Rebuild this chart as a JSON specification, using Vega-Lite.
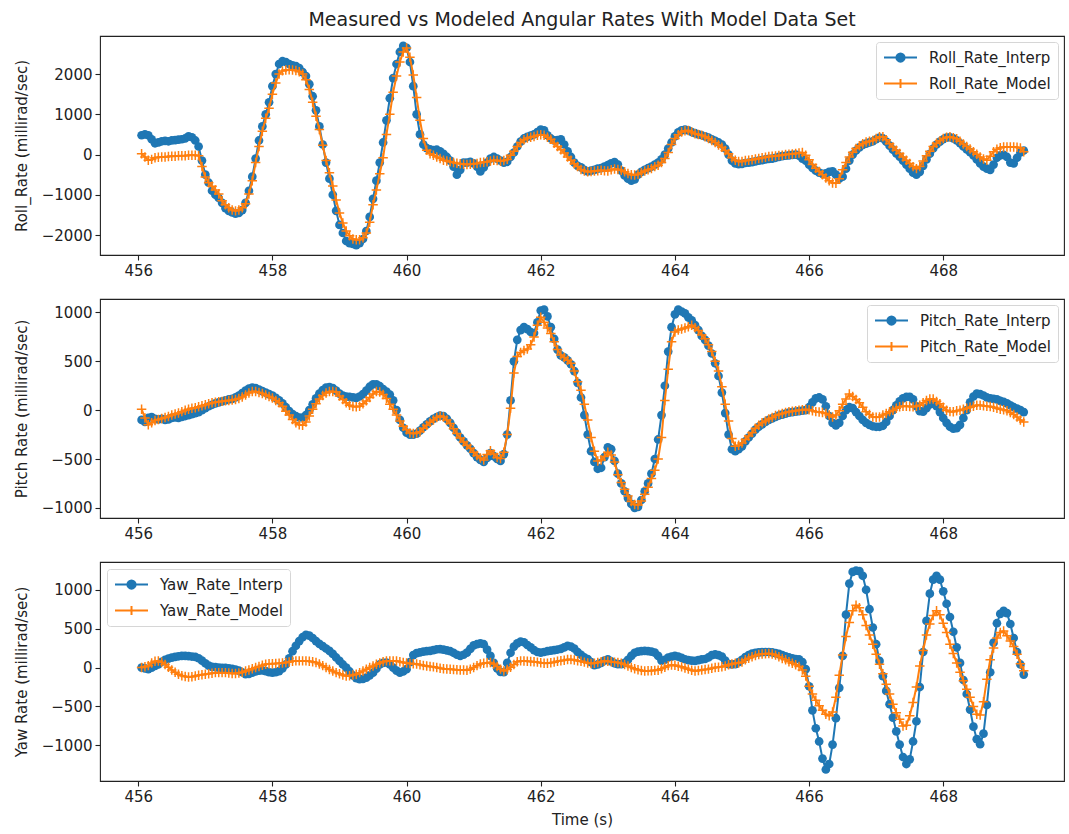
{
  "$schema": "https://vega.github.io/schema/vega-lite/v6.json",
  "background": "white",
  "padding": {"left": 13, "top": 10, "right": 4, "bottom": 4},
  "bounds": "flush",
  "spacing": 44,
  "config": {
    "font": "DejaVu Sans",
    "view": {"stroke": "#222", "strokeWidth": 1.1},
    "axis": {
      "grid": false,
      "domain": false,
      "tickColor": "#222",
      "tickSize": 5,
      "tickWidth": 1.1,
      "labelFont": "DejaVu Sans",
      "labelFontSize": 15,
      "labelColor": "#222",
      "labelPadding": 3,
      "titleFont": "DejaVu Sans",
      "titleFontSize": 15,
      "titleFontWeight": "normal",
      "titleColor": "#222"
    },
    "axisY": {"minExtent": 58, "maxExtent": 58, "titlePadding": 13},
    "legend": {
      "title": null,
      "labelFont": "DejaVu Sans",
      "labelFontSize": 15,
      "labelColor": "#222",
      "labelLimit": 400,
      "symbolSize": 225,
      "symbolOffset": 9,
      "labelOffset": 20,
      "rowPadding": 9,
      "padding": 7,
      "fillColor": "white",
      "strokeColor": "#d6d6d6",
      "cornerRadius": 3
    }
  },
  "datasets": {
    "rates": [
      {"t":456.05,"ri":480,"rm":20,"pi":-100,"pm":10,"yi":0,"ym":0},
      {"t":456.1,"ri":500,"rm":-60,"pi":-120,"pm":-80,"yi":-10,"ym":10},
      {"t":456.15,"ri":480,"rm":-140,"pi":-80,"pm":-150,"yi":-20,"ym":25},
      {"t":456.2,"ri":380,"rm":-120,"pi":-70,"pm":-130,"yi":0,"ym":60},
      {"t":456.25,"ri":280,"rm":-80,"pi":-90,"pm":-105,"yi":20,"ym":80},
      {"t":456.3,"ri":300,"rm":-70,"pi":-95,"pm":-95,"yi":40,"ym":85},
      {"t":456.35,"ri":330,"rm":-60,"pi":-90,"pm":-85,"yi":75,"ym":70},
      {"t":456.4,"ri":340,"rm":-60,"pi":-100,"pm":-75,"yi":100,"ym":40},
      {"t":456.45,"ri":330,"rm":-50,"pi":-95,"pm":-65,"yi":115,"ym":5},
      {"t":456.5,"ri":350,"rm":-40,"pi":-80,"pm":-50,"yi":128,"ym":-30},
      {"t":456.55,"ri":360,"rm":-40,"pi":-75,"pm":-40,"yi":137,"ym":-60},
      {"t":456.6,"ri":370,"rm":-30,"pi":-80,"pm":-30,"yi":145,"ym":-85},
      {"t":456.65,"ri":380,"rm":-30,"pi":-70,"pm":-15,"yi":150,"ym":-105},
      {"t":456.7,"ri":400,"rm":-30,"pi":-60,"pm":0,"yi":150,"ym":-115},
      {"t":456.75,"ri":450,"rm":-20,"pi":-50,"pm":10,"yi":148,"ym":-120},
      {"t":456.8,"ri":430,"rm":-20,"pi":-40,"pm":20,"yi":142,"ym":-118},
      {"t":456.85,"ri":350,"rm":-20,"pi":-30,"pm":25,"yi":137,"ym":-108},
      {"t":456.9,"ri":200,"rm":-30,"pi":-20,"pm":35,"yi":120,"ym":-100},
      {"t":456.95,"ri":-150,"rm":-300,"pi":0,"pm":45,"yi":90,"ym":-92},
      {"t":457.0,"ri":-500,"rm":-560,"pi":20,"pm":55,"yi":55,"ym":-86},
      {"t":457.05,"ri":-700,"rm":-700,"pi":40,"pm":65,"yi":25,"ym":-80},
      {"t":457.1,"ri":-900,"rm":-790,"pi":55,"pm":75,"yi":10,"ym":-72},
      {"t":457.15,"ri":-1000,"rm":-880,"pi":70,"pm":80,"yi":5,"ym":-65},
      {"t":457.2,"ri":-1080,"rm":-980,"pi":80,"pm":85,"yi":0,"ym":-65},
      {"t":457.25,"ri":-1200,"rm":-1150,"pi":90,"pm":90,"yi":-3,"ym":-65},
      {"t":457.3,"ri":-1330,"rm":-1250,"pi":100,"pm":95,"yi":-5,"ym":-65},
      {"t":457.35,"ri":-1400,"rm":-1320,"pi":110,"pm":100,"yi":-9,"ym":-70},
      {"t":457.4,"ri":-1440,"rm":-1380,"pi":115,"pm":105,"yi":-15,"ym":-75},
      {"t":457.45,"ri":-1470,"rm":-1400,"pi":130,"pm":110,"yi":-25,"ym":-77},
      {"t":457.5,"ri":-1450,"rm":-1380,"pi":150,"pm":120,"yi":-40,"ym":-70},
      {"t":457.55,"ri":-1380,"rm":-1320,"pi":175,"pm":135,"yi":-60,"ym":-60},
      {"t":457.6,"ri":-1200,"rm":-1220,"pi":200,"pm":155,"yi":-85,"ym":-45},
      {"t":457.65,"ri":-900,"rm":-980,"pi":220,"pm":175,"yi":-80,"ym":-30},
      {"t":457.7,"ri":-550,"rm":-650,"pi":230,"pm":190,"yi":-65,"ym":-15},
      {"t":457.75,"ri":-100,"rm":-200,"pi":225,"pm":190,"yi":-50,"ym":0},
      {"t":457.8,"ri":350,"rm":200,"pi":210,"pm":180,"yi":-40,"ym":15},
      {"t":457.85,"ri":700,"rm":580,"pi":195,"pm":170,"yi":-35,"ym":30},
      {"t":457.9,"ri":1000,"rm":900,"pi":180,"pm":155,"yi":-45,"ym":43},
      {"t":457.95,"ri":1300,"rm":1150,"pi":165,"pm":140,"yi":-60,"ym":48},
      {"t":458.0,"ri":1700,"rm":1500,"pi":150,"pm":125,"yi":-65,"ym":50},
      {"t":458.05,"ri":2000,"rm":1780,"pi":125,"pm":100,"yi":-60,"ym":51},
      {"t":458.1,"ri":2250,"rm":2000,"pi":100,"pm":75,"yi":-45,"ym":55},
      {"t":458.15,"ri":2320,"rm":2080,"pi":70,"pm":40,"yi":-10,"ym":60},
      {"t":458.2,"ri":2300,"rm":2100,"pi":30,"pm":-10,"yi":40,"ym":65},
      {"t":458.25,"ri":2250,"rm":2110,"pi":-10,"pm":-50,"yi":120,"ym":72},
      {"t":458.3,"ri":2220,"rm":2100,"pi":-40,"pm":-95,"yi":210,"ym":80},
      {"t":458.35,"ri":2200,"rm":2090,"pi":-60,"pm":-130,"yi":280,"ym":86},
      {"t":458.4,"ri":2150,"rm":2060,"pi":-75,"pm":-150,"yi":340,"ym":86},
      {"t":458.45,"ri":2050,"rm":2000,"pi":-75,"pm":-155,"yi":390,"ym":86},
      {"t":458.5,"ri":1950,"rm":1860,"pi":-50,"pm":-120,"yi":420,"ym":86},
      {"t":458.55,"ri":1750,"rm":1620,"pi":0,"pm":-60,"yi":410,"ym":82},
      {"t":458.6,"ri":1450,"rm":1300,"pi":60,"pm":10,"yi":380,"ym":75},
      {"t":458.65,"ri":1100,"rm":950,"pi":120,"pm":65,"yi":340,"ym":65},
      {"t":458.7,"ri":700,"rm":620,"pi":170,"pm":115,"yi":305,"ym":45},
      {"t":458.75,"ri":250,"rm":230,"pi":205,"pm":150,"yi":275,"ym":25},
      {"t":458.8,"ri":-200,"rm":-150,"pi":230,"pm":175,"yi":245,"ym":0},
      {"t":458.85,"ri":-600,"rm":-450,"pi":235,"pm":190,"yi":215,"ym":-25},
      {"t":458.9,"ri":-1000,"rm":-780,"pi":225,"pm":190,"yi":175,"ym":-45},
      {"t":458.95,"ri":-1400,"rm":-1130,"pi":200,"pm":185,"yi":130,"ym":-65},
      {"t":459.0,"ri":-1750,"rm":-1450,"pi":170,"pm":145,"yi":86,"ym":-80},
      {"t":459.05,"ri":-1950,"rm":-1700,"pi":150,"pm":110,"yi":40,"ym":-95},
      {"t":459.1,"ri":-2150,"rm":-1900,"pi":140,"pm":75,"yi":0,"ym":-107},
      {"t":459.15,"ri":-2200,"rm":-2020,"pi":135,"pm":50,"yi":-50,"ym":-105},
      {"t":459.2,"ri":-2220,"rm":-2100,"pi":130,"pm":38,"yi":-100,"ym":-97},
      {"t":459.25,"ri":-2250,"rm":-2120,"pi":125,"pm":35,"yi":-135,"ym":-86},
      {"t":459.3,"ri":-2200,"rm":-2120,"pi":140,"pm":40,"yi":-150,"ym":-65},
      {"t":459.35,"ri":-2100,"rm":-2070,"pi":165,"pm":65,"yi":-145,"ym":-45},
      {"t":459.4,"ri":-1900,"rm":-1950,"pi":200,"pm":95,"yi":-130,"ym":-21},
      {"t":459.45,"ri":-1550,"rm":-1680,"pi":240,"pm":130,"yi":-100,"ym":0},
      {"t":459.5,"ri":-1100,"rm":-1250,"pi":265,"pm":165,"yi":-65,"ym":20},
      {"t":459.55,"ri":-650,"rm":-880,"pi":265,"pm":190,"yi":-15,"ym":43},
      {"t":459.6,"ri":-200,"rm":-480,"pi":245,"pm":185,"yi":40,"ym":60},
      {"t":459.65,"ri":300,"rm":-80,"pi":215,"pm":160,"yi":60,"ym":75},
      {"t":459.7,"ri":850,"rm":500,"pi":190,"pm":120,"yi":65,"ym":86},
      {"t":459.75,"ri":1400,"rm":1000,"pi":160,"pm":60,"yi":40,"ym":86},
      {"t":459.8,"ri":1900,"rm":1550,"pi":100,"pm":10,"yi":0,"ym":86},
      {"t":459.85,"ri":2250,"rm":1950,"pi":0,"pm":-50,"yi":-40,"ym":86},
      {"t":459.9,"ri":2550,"rm":2300,"pi":-100,"pm":-110,"yi":-65,"ym":75},
      {"t":459.95,"ri":2700,"rm":2550,"pi":-180,"pm":-165,"yi":-50,"ym":65},
      {"t":460.0,"ri":2650,"rm":2650,"pi":-230,"pm":-200,"yi":-20,"ym":60},
      {"t":460.05,"ri":2300,"rm":2420,"pi":-250,"pm":-235,"yi":70,"ym":52},
      {"t":460.1,"ri":1700,"rm":1980,"pi":-250,"pm":-240,"yi":160,"ym":50},
      {"t":460.15,"ri":1000,"rm":1420,"pi":-240,"pm":-235,"yi":185,"ym":45},
      {"t":460.2,"ri":500,"rm":850,"pi":-210,"pm":-220,"yi":195,"ym":35},
      {"t":460.25,"ri":250,"rm":400,"pi":-175,"pm":-185,"yi":205,"ym":28},
      {"t":460.3,"ri":160,"rm":110,"pi":-145,"pm":-155,"yi":210,"ym":20},
      {"t":460.35,"ri":130,"rm":20,"pi":-115,"pm":-125,"yi":215,"ym":15},
      {"t":460.4,"ri":110,"rm":-20,"pi":-90,"pm":-100,"yi":225,"ym":9},
      {"t":460.45,"ri":120,"rm":-60,"pi":-70,"pm":-75,"yi":235,"ym":0},
      {"t":460.5,"ri":80,"rm":-100,"pi":-55,"pm":-60,"yi":236,"ym":-8},
      {"t":460.55,"ri":20,"rm":-140,"pi":-60,"pm":-70,"yi":230,"ym":-14},
      {"t":460.6,"ri":-60,"rm":-160,"pi":-90,"pm":-100,"yi":220,"ym":-18},
      {"t":460.65,"ri":-150,"rm":-180,"pi":-130,"pm":-137,"yi":210,"ym":-21},
      {"t":460.7,"ri":-300,"rm":-200,"pi":-180,"pm":-190,"yi":190,"ym":-25},
      {"t":460.75,"ri":-500,"rm":-215,"pi":-230,"pm":-240,"yi":165,"ym":-28},
      {"t":460.8,"ri":-380,"rm":-230,"pi":-280,"pm":-285,"yi":150,"ym":-30},
      {"t":460.85,"ri":-200,"rm":-240,"pi":-320,"pm":-325,"yi":165,"ym":-32},
      {"t":460.9,"ri":-200,"rm":-250,"pi":-360,"pm":-360,"yi":193,"ym":-34},
      {"t":460.95,"ri":-180,"rm":-240,"pi":-395,"pm":-390,"yi":240,"ym":-20},
      {"t":461.0,"ri":-220,"rm":-230,"pi":-440,"pm":-430,"yi":285,"ym":0},
      {"t":461.05,"ri":-300,"rm":-220,"pi":-480,"pm":-465,"yi":300,"ym":25},
      {"t":461.1,"ri":-420,"rm":-200,"pi":-510,"pm":-490,"yi":310,"ym":45},
      {"t":461.15,"ri":-320,"rm":-190,"pi":-530,"pm":-510,"yi":300,"ym":55},
      {"t":461.2,"ri":-200,"rm":-180,"pi":-490,"pm":-455,"yi":230,"ym":62},
      {"t":461.25,"ri":-100,"rm":-160,"pi":-440,"pm":-415,"yi":150,"ym":65},
      {"t":461.3,"ri":-60,"rm":-140,"pi":-470,"pm":-450,"yi":60,"ym":45},
      {"t":461.35,"ri":-100,"rm":-150,"pi":-500,"pm":-485,"yi":-10,"ym":15},
      {"t":461.4,"ri":-150,"rm":-165,"pi":-520,"pm":-495,"yi":-55,"ym":-20},
      {"t":461.45,"ri":-200,"rm":-150,"pi":-450,"pm":-430,"yi":-60,"ym":-43},
      {"t":461.5,"ri":-180,"rm":-120,"pi":-250,"pm":-250,"yi":60,"ym":-25},
      {"t":461.55,"ri":-60,"rm":-20,"pi":100,"pm":20,"yi":190,"ym":5},
      {"t":461.6,"ri":50,"rm":80,"pi":500,"pm":380,"yi":270,"ym":40},
      {"t":461.65,"ri":200,"rm":200,"pi":720,"pm":550,"yi":310,"ym":75},
      {"t":461.7,"ri":320,"rm":300,"pi":820,"pm":590,"yi":335,"ym":86},
      {"t":461.75,"ri":400,"rm":370,"pi":850,"pm":610,"yi":325,"ym":84},
      {"t":461.8,"ri":440,"rm":410,"pi":830,"pm":625,"yi":290,"ym":80},
      {"t":461.85,"ri":470,"rm":430,"pi":800,"pm":670,"yi":260,"ym":78},
      {"t":461.9,"ri":500,"rm":450,"pi":790,"pm":750,"yi":225,"ym":75},
      {"t":461.95,"ri":560,"rm":480,"pi":900,"pm":870,"yi":200,"ym":70},
      {"t":462.0,"ri":620,"rm":490,"pi":1020,"pm":950,"yi":193,"ym":62},
      {"t":462.05,"ri":600,"rm":480,"pi":1030,"pm":900,"yi":200,"ym":55},
      {"t":462.1,"ri":480,"rm":430,"pi":960,"pm":840,"yi":210,"ym":55},
      {"t":462.15,"ri":400,"rm":380,"pi":850,"pm":785,"yi":218,"ym":62},
      {"t":462.2,"ri":350,"rm":280,"pi":730,"pm":700,"yi":225,"ym":70},
      {"t":462.25,"ri":360,"rm":200,"pi":620,"pm":620,"yi":232,"ym":80},
      {"t":462.3,"ri":380,"rm":120,"pi":560,"pm":565,"yi":240,"ym":88},
      {"t":462.35,"ri":250,"rm":40,"pi":540,"pm":540,"yi":260,"ym":95},
      {"t":462.4,"ri":80,"rm":-60,"pi":510,"pm":510,"yi":280,"ym":105},
      {"t":462.45,"ri":-60,"rm":-140,"pi":470,"pm":480,"yi":270,"ym":105},
      {"t":462.5,"ri":-200,"rm":-230,"pi":400,"pm":400,"yi":245,"ym":98},
      {"t":462.55,"ri":-280,"rm":-300,"pi":280,"pm":290,"yi":200,"ym":88},
      {"t":462.6,"ri":-320,"rm":-370,"pi":130,"pm":205,"yi":165,"ym":80},
      {"t":462.65,"ri":-380,"rm":-410,"pi":-50,"pm":60,"yi":130,"ym":70},
      {"t":462.7,"ri":-420,"rm":-430,"pi":-250,"pm":-100,"yi":110,"ym":60},
      {"t":462.75,"ri":-400,"rm":-420,"pi":-420,"pm":-280,"yi":70,"ym":52},
      {"t":462.8,"ri":-380,"rm":-410,"pi":-530,"pm":-420,"yi":30,"ym":55},
      {"t":462.85,"ri":-350,"rm":-400,"pi":-600,"pm":-520,"yi":40,"ym":65},
      {"t":462.9,"ri":-340,"rm":-390,"pi":-590,"pm":-510,"yi":60,"ym":75},
      {"t":462.95,"ri":-300,"rm":-400,"pi":-480,"pm":-475,"yi":90,"ym":85},
      {"t":463.0,"ri":-260,"rm":-410,"pi":-380,"pm":-430,"yi":107,"ym":82},
      {"t":463.05,"ri":-220,"rm":-380,"pi":-400,"pm":-460,"yi":80,"ym":75},
      {"t":463.1,"ri":-190,"rm":-360,"pi":-520,"pm":-530,"yi":55,"ym":70},
      {"t":463.15,"ri":-250,"rm":-370,"pi":-650,"pm":-660,"yi":45,"ym":65},
      {"t":463.2,"ri":-400,"rm":-390,"pi":-750,"pm":-740,"yi":43,"ym":55},
      {"t":463.25,"ri":-520,"rm":-430,"pi":-830,"pm":-810,"yi":60,"ym":40},
      {"t":463.3,"ri":-600,"rm":-470,"pi":-900,"pm":-880,"yi":100,"ym":20},
      {"t":463.35,"ri":-650,"rm":-500,"pi":-960,"pm":-935,"yi":150,"ym":0},
      {"t":463.4,"ri":-620,"rm":-510,"pi":-1000,"pm":-965,"yi":190,"ym":-15},
      {"t":463.45,"ri":-500,"rm":-490,"pi":-990,"pm":-970,"yi":205,"ym":-28},
      {"t":463.5,"ri":-430,"rm":-450,"pi":-920,"pm":-930,"yi":212,"ym":-38},
      {"t":463.55,"ri":-380,"rm":-410,"pi":-830,"pm":-860,"yi":215,"ym":-43},
      {"t":463.6,"ri":-340,"rm":-380,"pi":-750,"pm":-790,"yi":212,"ym":-42},
      {"t":463.65,"ri":-300,"rm":-350,"pi":-650,"pm":-700,"yi":205,"ym":-40},
      {"t":463.7,"ri":-250,"rm":-300,"pi":-500,"pm":-615,"yi":193,"ym":-36},
      {"t":463.75,"ri":-200,"rm":-265,"pi":-300,"pm":-500,"yi":150,"ym":-34},
      {"t":463.8,"ri":-120,"rm":-200,"pi":-50,"pm":-280,"yi":90,"ym":-15},
      {"t":463.85,"ri":0,"rm":-100,"pi":250,"pm":100,"yi":100,"ym":5},
      {"t":463.9,"ri":150,"rm":50,"pi":600,"pm":420,"yi":129,"ym":25},
      {"t":463.95,"ri":300,"rm":250,"pi":850,"pm":700,"yi":140,"ym":34},
      {"t":464.0,"ri":450,"rm":400,"pi":980,"pm":800,"yi":150,"ym":30},
      {"t":464.05,"ri":550,"rm":490,"pi":1030,"pm":820,"yi":140,"ym":18},
      {"t":464.1,"ri":600,"rm":560,"pi":1010,"pm":830,"yi":125,"ym":9},
      {"t":464.15,"ri":620,"rm":590,"pi":990,"pm":840,"yi":107,"ym":-5},
      {"t":464.2,"ri":600,"rm":600,"pi":950,"pm":855,"yi":95,"ym":-20},
      {"t":464.25,"ri":560,"rm":560,"pi":920,"pm":870,"yi":88,"ym":-35},
      {"t":464.3,"ri":530,"rm":520,"pi":870,"pm":845,"yi":86,"ym":-43},
      {"t":464.35,"ri":500,"rm":500,"pi":820,"pm":815,"yi":95,"ym":-38},
      {"t":464.4,"ri":480,"rm":480,"pi":760,"pm":770,"yi":105,"ym":-30},
      {"t":464.45,"ri":450,"rm":440,"pi":720,"pm":730,"yi":110,"ym":-25},
      {"t":464.5,"ri":420,"rm":400,"pi":660,"pm":670,"yi":130,"ym":-20},
      {"t":464.55,"ri":380,"rm":350,"pi":580,"pm":600,"yi":160,"ym":-10},
      {"t":464.6,"ri":340,"rm":300,"pi":480,"pm":500,"yi":170,"ym":0},
      {"t":464.65,"ri":300,"rm":240,"pi":350,"pm":400,"yi":160,"ym":5},
      {"t":464.7,"ri":250,"rm":180,"pi":180,"pm":240,"yi":140,"ym":10},
      {"t":464.75,"ri":150,"rm":100,"pi":-30,"pm":60,"yi":90,"ym":20},
      {"t":464.8,"ri":0,"rm":20,"pi":-250,"pm":-110,"yi":43,"ym":35},
      {"t":464.85,"ri":-150,"rm":-80,"pi":-400,"pm":-290,"yi":40,"ym":45},
      {"t":464.9,"ri":-220,"rm":-140,"pi":-420,"pm":-370,"yi":45,"ym":55},
      {"t":464.95,"ri":-240,"rm":-170,"pi":-400,"pm":-360,"yi":70,"ym":60},
      {"t":465.0,"ri":-230,"rm":-170,"pi":-370,"pm":-335,"yi":100,"ym":70},
      {"t":465.05,"ri":-210,"rm":-150,"pi":-320,"pm":-300,"yi":135,"ym":100},
      {"t":465.1,"ri":-200,"rm":-140,"pi":-280,"pm":-265,"yi":160,"ym":120},
      {"t":465.15,"ri":-190,"rm":-130,"pi":-240,"pm":-230,"yi":180,"ym":140},
      {"t":465.2,"ri":-170,"rm":-110,"pi":-200,"pm":-185,"yi":190,"ym":155},
      {"t":465.25,"ri":-150,"rm":-100,"pi":-170,"pm":-155,"yi":195,"ym":168},
      {"t":465.3,"ri":-140,"rm":-80,"pi":-145,"pm":-130,"yi":198,"ym":175},
      {"t":465.35,"ri":-120,"rm":-65,"pi":-120,"pm":-110,"yi":200,"ym":178},
      {"t":465.4,"ri":-110,"rm":-50,"pi":-100,"pm":-90,"yi":200,"ym":180},
      {"t":465.45,"ri":-100,"rm":-40,"pi":-85,"pm":-75,"yi":195,"ym":175},
      {"t":465.5,"ri":-80,"rm":-35,"pi":-70,"pm":-55,"yi":185,"ym":160},
      {"t":465.55,"ri":-60,"rm":-25,"pi":-55,"pm":-45,"yi":175,"ym":140},
      {"t":465.6,"ri":-40,"rm":-15,"pi":-45,"pm":-35,"yi":160,"ym":118},
      {"t":465.65,"ri":-30,"rm":0,"pi":-35,"pm":-25,"yi":145,"ym":100},
      {"t":465.7,"ri":-20,"rm":5,"pi":-25,"pm":-15,"yi":130,"ym":75},
      {"t":465.75,"ri":-10,"rm":15,"pi":-20,"pm":-10,"yi":120,"ym":55},
      {"t":465.8,"ri":0,"rm":25,"pi":-15,"pm":-5,"yi":110,"ym":35},
      {"t":465.85,"ri":-30,"rm":40,"pi":-10,"pm":0,"yi":107,"ym":15},
      {"t":465.9,"ri":-100,"rm":50,"pi":-5,"pm":5,"yi":70,"ym":-30},
      {"t":465.95,"ri":-150,"rm":-20,"pi":0,"pm":7,"yi":-20,"ym":-110},
      {"t":466.0,"ri":-250,"rm":-130,"pi":30,"pm":5,"yi":-240,"ym":-240},
      {"t":466.05,"ri":-330,"rm":-250,"pi":80,"pm":-5,"yi":-550,"ym":-340},
      {"t":466.1,"ri":-400,"rm":-340,"pi":120,"pm":-15,"yi":-780,"ym":-420},
      {"t":466.15,"ri":-450,"rm":-420,"pi":130,"pm":-20,"yi":-950,"ym":-490},
      {"t":466.2,"ri":-480,"rm":-500,"pi":110,"pm":-25,"yi":-1170,"ym":-550},
      {"t":466.25,"ri":-470,"rm":-580,"pi":40,"pm":-35,"yi":-1310,"ym":-600},
      {"t":466.3,"ri":-430,"rm":-650,"pi":-60,"pm":-50,"yi":-1240,"ym":-620},
      {"t":466.35,"ri":-420,"rm":-710,"pi":-130,"pm":-70,"yi":-990,"ym":-570},
      {"t":466.4,"ri":-500,"rm":-715,"pi":-155,"pm":-50,"yi":-650,"ym":-380},
      {"t":466.45,"ri":-600,"rm":-600,"pi":-130,"pm":-5,"yi":-260,"ym":-100},
      {"t":466.5,"ri":-550,"rm":-380,"pi":-60,"pm":60,"yi":150,"ym":160},
      {"t":466.55,"ri":-350,"rm":-200,"pi":0,"pm":115,"yi":680,"ym":400},
      {"t":466.6,"ri":-150,"rm":-60,"pi":30,"pm":165,"yi":1080,"ym":580},
      {"t":466.65,"ri":0,"rm":60,"pi":20,"pm":140,"yi":1230,"ym":730},
      {"t":466.7,"ri":100,"rm":150,"pi":-20,"pm":110,"yi":1245,"ym":800},
      {"t":466.75,"ri":180,"rm":220,"pi":-60,"pm":75,"yi":1240,"ym":770},
      {"t":466.8,"ri":240,"rm":270,"pi":-100,"pm":30,"yi":1180,"ym":680},
      {"t":466.85,"ri":270,"rm":310,"pi":-130,"pm":-15,"yi":1000,"ym":540},
      {"t":466.9,"ri":300,"rm":330,"pi":-150,"pm":-45,"yi":750,"ym":420},
      {"t":466.95,"ri":330,"rm":350,"pi":-165,"pm":-70,"yi":515,"ym":300},
      {"t":467.0,"ri":380,"rm":400,"pi":-170,"pm":-72,"yi":300,"ym":170},
      {"t":467.05,"ri":420,"rm":440,"pi":-170,"pm":-70,"yi":86,"ym":43},
      {"t":467.1,"ri":400,"rm":440,"pi":-160,"pm":-50,"yi":-110,"ym":-80},
      {"t":467.15,"ri":320,"rm":370,"pi":-120,"pm":-35,"yi":-300,"ym":-215},
      {"t":467.2,"ri":220,"rm":270,"pi":-60,"pm":-15,"yi":-470,"ym":-340},
      {"t":467.25,"ri":120,"rm":190,"pi":0,"pm":0,"yi":-643,"ym":-470},
      {"t":467.3,"ri":30,"rm":110,"pi":50,"pm":20,"yi":-820,"ym":-580},
      {"t":467.35,"ri":-50,"rm":25,"pi":90,"pm":35,"yi":-990,"ym":-665},
      {"t":467.4,"ri":-150,"rm":-60,"pi":120,"pm":40,"yi":-1150,"ym":-750},
      {"t":467.45,"ri":-250,"rm":-140,"pi":135,"pm":40,"yi":-1240,"ym":-740},
      {"t":467.5,"ri":-350,"rm":-220,"pi":137,"pm":38,"yi":-1180,"ym":-620},
      {"t":467.55,"ri":-450,"rm":-300,"pi":110,"pm":35,"yi":-950,"ym":-450},
      {"t":467.6,"ri":-500,"rm":-350,"pi":40,"pm":40,"yi":-690,"ym":-250},
      {"t":467.65,"ri":-430,"rm":-300,"pi":-10,"pm":50,"yi":-250,"ym":20},
      {"t":467.7,"ri":-280,"rm":-160,"pi":-15,"pm":75,"yi":200,"ym":220},
      {"t":467.75,"ri":-120,"rm":-30,"pi":20,"pm":100,"yi":600,"ym":420},
      {"t":467.8,"ri":20,"rm":80,"pi":60,"pm":115,"yi":950,"ym":560},
      {"t":467.85,"ri":150,"rm":200,"pi":70,"pm":115,"yi":1130,"ym":670},
      {"t":467.9,"ri":250,"rm":280,"pi":40,"pm":90,"yi":1180,"ym":730},
      {"t":467.95,"ri":320,"rm":340,"pi":-20,"pm":65,"yi":1130,"ym":680},
      {"t":468.0,"ri":380,"rm":400,"pi":-80,"pm":30,"yi":980,"ym":570},
      {"t":468.05,"ri":420,"rm":430,"pi":-130,"pm":0,"yi":820,"ym":450},
      {"t":468.1,"ri":430,"rm":440,"pi":-170,"pm":-15,"yi":650,"ym":300},
      {"t":468.15,"ri":400,"rm":420,"pi":-190,"pm":-17,"yi":460,"ym":180},
      {"t":468.2,"ri":350,"rm":390,"pi":-185,"pm":-5,"yi":260,"ym":60},
      {"t":468.25,"ri":280,"rm":330,"pi":-150,"pm":0,"yi":60,"ym":-60},
      {"t":468.3,"ri":200,"rm":260,"pi":-80,"pm":10,"yi":-160,"ym":-170},
      {"t":468.35,"ri":130,"rm":200,"pi":0,"pm":20,"yi":-340,"ym":-280},
      {"t":468.4,"ri":60,"rm":140,"pi":80,"pm":30,"yi":-540,"ym":-380},
      {"t":468.45,"ri":-20,"rm":70,"pi":140,"pm":40,"yi":-760,"ym":-500},
      {"t":468.5,"ri":-120,"rm":10,"pi":170,"pm":50,"yi":-920,"ym":-600},
      {"t":468.55,"ri":-220,"rm":-60,"pi":165,"pm":50,"yi":-985,"ym":-610},
      {"t":468.6,"ri":-300,"rm":-110,"pi":150,"pm":45,"yi":-850,"ym":-440},
      {"t":468.65,"ri":-350,"rm":-140,"pi":130,"pm":40,"yi":-480,"ym":-150},
      {"t":468.7,"ri":-380,"rm":-40,"pi":120,"pm":38,"yi":-60,"ym":100},
      {"t":468.75,"ri":-250,"rm":70,"pi":115,"pm":30,"yi":320,"ym":250},
      {"t":468.8,"ri":-80,"rm":130,"pi":110,"pm":20,"yi":570,"ym":380},
      {"t":468.85,"ri":-20,"rm":170,"pi":95,"pm":10,"yi":690,"ym":450},
      {"t":468.9,"ri":-10,"rm":190,"pi":85,"pm":5,"yi":730,"ym":470},
      {"t":468.95,"ri":-60,"rm":190,"pi":70,"pm":-5,"yi":700,"ym":410},
      {"t":469.0,"ri":-200,"rm":190,"pi":50,"pm":-25,"yi":560,"ym":340},
      {"t":469.05,"ri":-220,"rm":190,"pi":30,"pm":-45,"yi":380,"ym":270},
      {"t":469.1,"ri":-80,"rm":180,"pi":15,"pm":-70,"yi":200,"ym":170},
      {"t":469.15,"ri":50,"rm":160,"pi":0,"pm":-100,"yi":40,"ym":50},
      {"t":469.2,"ri":100,"rm":70,"pi":-20,"pm":-120,"yi":-90,"ym":-40}
    ]
  },
  "vconcat": [
    {
      "width": 964,
      "height": 219,
      "title": {
        "text": "Measured vs Modeled Angular Rates With Model Data Set",
        "font": "DejaVu Sans",
        "fontSize": 19,
        "fontWeight": "normal",
        "color": "#222",
        "anchor": "middle",
        "offset": 6
      },
      "data": {"name": "rates"},
      "transform": [{"fold": ["ri", "rm"], "as": ["s", "v"]}],
      "encoding": {
        "x": {
          "field": "t",
          "type": "quantitative",
          "scale": {"domain": [455.43, 469.8], "nice": false, "zero": false},
          "axis": {"values": [456, 458, 460, 462, 464, 466, 468], "format": "d", "title": null}
        },
        "y": {
          "field": "v",
          "type": "quantitative",
          "scale": {"domain": [-2497, 2947], "nice": false, "zero": false},
          "axis": {"values": [-2000, -1000, 0, 1000, 2000], "format": "d", "title": "Roll_Rate (millirad/sec)"}
        },
        "color": {
          "field": "s",
          "type": "nominal",
          "scale": {"domain": ["ri", "rm"], "range": ["#1f77b4", "#ff7f0e"]},
          "legend": {
            "orient": "top-right",
            "offset": 6,
            "labelExpr": "datum.label == 'ri' ? 'Roll_Rate_Interp' : 'Roll_Rate_Model'",
            "encode": {
              "symbols": {
                "update": {
                  "shape": {"signal": "datum.value == 'ri' ? 'M-2.2,0H-0.55A0.55,0.55 0 1,1 0.55,0A0.55,0.55 0 1,1 -0.55,0M0.55,0H2.2' : 'M-2.2,0H2.2M0,-0.6V0.6'"},
                  "fill": {"signal": "datum.value == 'ri' ? '#1f77b4' : 'transparent'"},
                  "stroke": {"signal": "datum.value == 'ri' ? '#1f77b4' : '#ff7f0e'"},
                  "strokeWidth": {"value": 2},
                  "opacity": {"value": 1}
                }
              }
            }
          }
        }
      },
      "layer": [
        {"transform": [{"filter": {"field": "s", "equal": "ri"}}], "mark": {"type": "line", "strokeWidth": 2}},
        {"transform": [{"filter": {"field": "s", "equal": "ri"}}], "mark": {"type": "point", "shape": "circle", "filled": true, "size": 76, "opacity": 1}},
        {"transform": [{"filter": {"field": "s", "equal": "rm"}}], "mark": {"type": "line", "strokeWidth": 2}},
        {"transform": [{"filter": {"field": "s", "equal": "rm"}}], "mark": {"type": "point", "shape": "M-1,0H1M0,-1V1", "filled": false, "size": 90, "strokeWidth": 1.5, "opacity": 1}}
      ]
    },
    {
      "width": 964,
      "height": 219,
      "data": {"name": "rates"},
      "transform": [{"fold": ["pi", "pm"], "as": ["s", "v"]}],
      "encoding": {
        "x": {
          "field": "t",
          "type": "quantitative",
          "scale": {"domain": [455.43, 469.8], "nice": false, "zero": false},
          "axis": {"values": [456, 458, 460, 462, 464, 466, 468], "format": "d", "title": null}
        },
        "y": {
          "field": "v",
          "type": "quantitative",
          "scale": {"domain": [-1104, 1138], "nice": false, "zero": false},
          "axis": {"values": [-1000, -500, 0, 500, 1000], "format": "d", "title": "Pitch Rate (millirad/sec)"}
        },
        "color": {
          "field": "s",
          "type": "nominal",
          "scale": {"domain": ["pi", "pm"], "range": ["#1f77b4", "#ff7f0e"]},
          "legend": {
            "orient": "top-right",
            "offset": 6,
            "labelExpr": "datum.label == 'pi' ? 'Pitch_Rate_Interp' : 'Pitch_Rate_Model'",
            "encode": {
              "symbols": {
                "update": {
                  "shape": {"signal": "datum.value == 'pi' ? 'M-2.2,0H-0.55A0.55,0.55 0 1,1 0.55,0A0.55,0.55 0 1,1 -0.55,0M0.55,0H2.2' : 'M-2.2,0H2.2M0,-0.6V0.6'"},
                  "fill": {"signal": "datum.value == 'pi' ? '#1f77b4' : 'transparent'"},
                  "stroke": {"signal": "datum.value == 'pi' ? '#1f77b4' : '#ff7f0e'"},
                  "strokeWidth": {"value": 2},
                  "opacity": {"value": 1}
                }
              }
            }
          }
        }
      },
      "layer": [
        {"transform": [{"filter": {"field": "s", "equal": "pi"}}], "mark": {"type": "line", "strokeWidth": 2}},
        {"transform": [{"filter": {"field": "s", "equal": "pi"}}], "mark": {"type": "point", "shape": "circle", "filled": true, "size": 76, "opacity": 1}},
        {"transform": [{"filter": {"field": "s", "equal": "pm"}}], "mark": {"type": "line", "strokeWidth": 2}},
        {"transform": [{"filter": {"field": "s", "equal": "pm"}}], "mark": {"type": "point", "shape": "M-1,0H1M0,-1V1", "filled": false, "size": 90, "strokeWidth": 1.5, "opacity": 1}}
      ]
    },
    {
      "width": 964,
      "height": 219,
      "data": {"name": "rates"},
      "transform": [{"fold": ["yi", "ym"], "as": ["s", "v"]}],
      "encoding": {
        "x": {
          "field": "t",
          "type": "quantitative",
          "scale": {"domain": [455.43, 469.8], "nice": false, "zero": false},
          "axis": {"values": [456, 458, 460, 462, 464, 466, 468], "format": "d", "title": "Time (s)", "titlePadding": 8}
        },
        "y": {
          "field": "v",
          "type": "quantitative",
          "scale": {"domain": [-1458, 1357], "nice": false, "zero": false},
          "axis": {"values": [-1000, -500, 0, 500, 1000], "format": "d", "title": "Yaw Rate (millirad/sec)"}
        },
        "color": {
          "field": "s",
          "type": "nominal",
          "scale": {"domain": ["yi", "ym"], "range": ["#1f77b4", "#ff7f0e"]},
          "legend": {
            "orient": "top-left",
            "offset": 7,
            "labelExpr": "datum.label == 'yi' ? 'Yaw_Rate_Interp' : 'Yaw_Rate_Model'",
            "encode": {
              "symbols": {
                "update": {
                  "shape": {"signal": "datum.value == 'yi' ? 'M-2.2,0H-0.55A0.55,0.55 0 1,1 0.55,0A0.55,0.55 0 1,1 -0.55,0M0.55,0H2.2' : 'M-2.2,0H2.2M0,-0.6V0.6'"},
                  "fill": {"signal": "datum.value == 'yi' ? '#1f77b4' : 'transparent'"},
                  "stroke": {"signal": "datum.value == 'yi' ? '#1f77b4' : '#ff7f0e'"},
                  "strokeWidth": {"value": 2},
                  "opacity": {"value": 1}
                }
              }
            }
          }
        }
      },
      "layer": [
        {"transform": [{"filter": {"field": "s", "equal": "yi"}}], "mark": {"type": "line", "strokeWidth": 2}},
        {"transform": [{"filter": {"field": "s", "equal": "yi"}}], "mark": {"type": "point", "shape": "circle", "filled": true, "size": 76, "opacity": 1}},
        {"transform": [{"filter": {"field": "s", "equal": "ym"}}], "mark": {"type": "line", "strokeWidth": 2}},
        {"transform": [{"filter": {"field": "s", "equal": "ym"}}], "mark": {"type": "point", "shape": "M-1,0H1M0,-1V1", "filled": false, "size": 90, "strokeWidth": 1.5, "opacity": 1}}
      ]
    }
  ],
  "resolve": {"scale": {"color": "independent"}}
}
